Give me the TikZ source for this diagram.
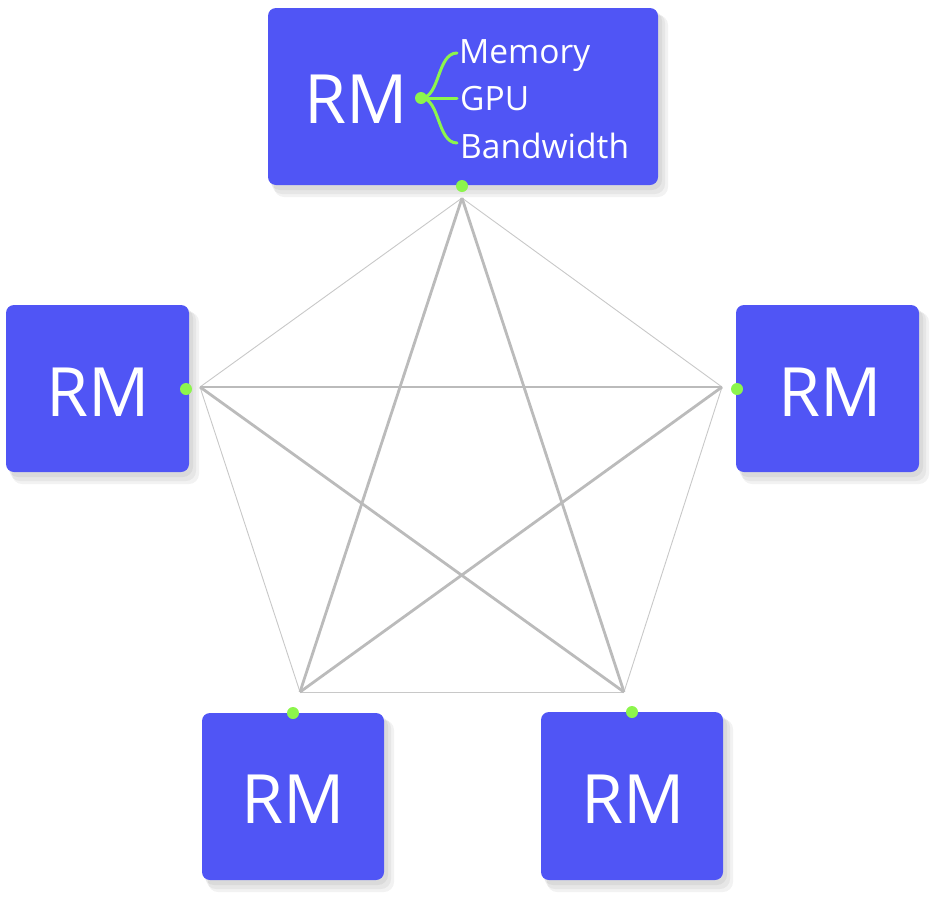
\documentclass[tikz,border=0pt]{standalone}
\usepackage{fontspec}
\setmainfont{Open Sans}
\definecolor{boxblue}{HTML}{5055F5}
\definecolor{dotgreen}{HTML}{8CF54C}
\definecolor{edgegray}{HTML}{C8C8C8}
\definecolor{stargray}{HTML}{BBBBBB}
\tikzset{
  rmbox/.style={fill=boxblue, rounded corners=8pt},
  shadowbox/.style={fill=black, opacity=0.05, rounded corners=10pt},
  rmtext/.style={text=white, font=\fontsize{68}{68}\selectfont, inner sep=0pt},
  subtext/.style={text=white, font=\fontsize{33.5}{33.5}\selectfont, anchor=base west, inner sep=0pt},
  gdot/.style={circle, fill=dotgreen, inner sep=0pt, minimum size=12pt},
  thinedge/.style={draw=edgegray, line width=0.9pt},
  staredge/.style={draw=stargray, line width=2.8pt},
  branch/.style={draw=dotgreen, line width=3pt, line cap=round},
}
\begin{document}
\begin{tikzpicture}[x=1pt,y=-1pt]
\useasboundingbox (0,0) rectangle (945,900);
% shadows
\foreach \a/\b/\c/\d in {268/8/658/185, 6/305/189/472, 736/305/919/472, 202/713/384/880, 541/712/723/880}{
  \fill[shadowbox] (\a+6,\b+7) rectangle (\c+10,\d+12);
  \fill[shadowbox] (\a+4,\b+5) rectangle (\c+7,\d+9);
  \fill[shadowbox] (\a+2,\b+3) rectangle (\c+4,\d+5);
}
% boxes
\fill[rmbox] (268,8) rectangle (658,185);
\fill[rmbox] (6,305) rectangle (189,472);
\fill[rmbox] (736,305) rectangle (919,472);
\fill[rmbox] (202,713) rectangle (384,880);
\fill[rmbox] (541,712) rectangle (723,880);
% texts
\node[rmtext] (t0) at (356,99) {RM};
\node[rmtext] (t1) at (98,392) {RM};
\node[rmtext] (t2) at (830,392) {RM};
\node[rmtext] (t3) at (293,799) {RM};
\node[rmtext] (t4) at (633,799) {RM};
\node[subtext] (mem) at (459,63) {Memory};
\node[subtext] (gpu) at (460,110) {GPU};
\node[subtext] (bw) at (460,158) {Bandwidth};
% branch
\node[gdot] (hub) at (421,98) {};
\coordinate (bm) at (457,53);
\coordinate (bg) at (457,98);
\coordinate (bb) at (457,143);
\draw[branch] (hub.center) .. controls (440,98) and (437,53) .. (bm);
\draw[branch] (hub.center) -- (bg);
\draw[branch] (hub.center) .. controls (440,98) and (437,143) .. (bb);
% pentagon vertices
\coordinate (v0) at (462,198);
\coordinate (v1) at (722,387);
\coordinate (v2) at (624,692);
\coordinate (v3) at (300,692);
\coordinate (v4) at (200,387);
% pentagon edges
\draw[thinedge] (v0) -- (v1);
\draw[thinedge] (v1) -- (v2);
\draw[thinedge] (v2) -- (v3);
\draw[thinedge] (v3) -- (v4);
\draw[thinedge] (v4) -- (v0);
% star
\draw[staredge] (v0) -- (v2);
\draw[staredge] (v0) -- (v3);
\draw[staredge] (v1) -- (v3);
\draw[staredge] (v1) -- (v4);
\draw[staredge] (v4) -- (v2);
% connection dots
\node[gdot] (d0) at (462,186) {};
\node[gdot] (d1) at (737,389) {};
\node[gdot] (d2) at (632,712) {};
\node[gdot] (d3) at (293,713) {};
\node[gdot] (d4) at (186,389) {};
\end{tikzpicture}
\end{document}
